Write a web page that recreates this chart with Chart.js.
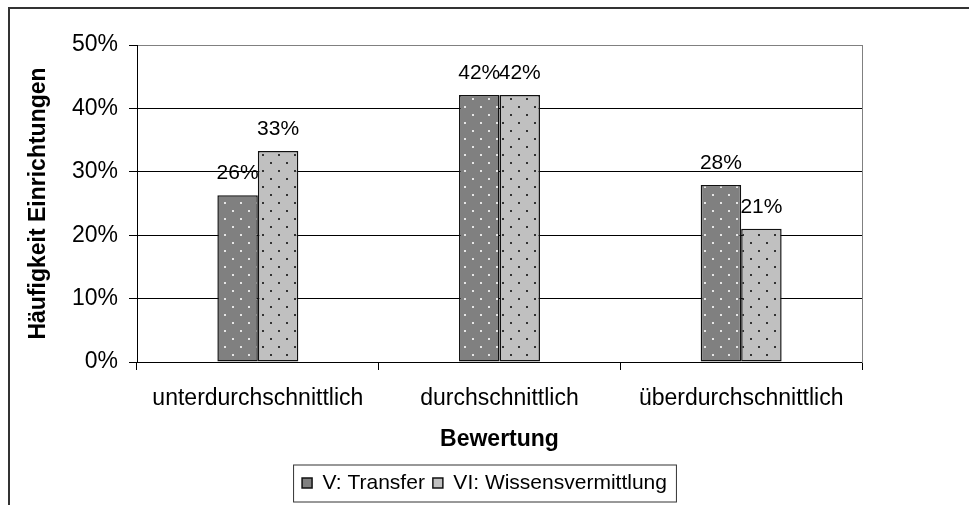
<!DOCTYPE html>
<html>
<head>
<meta charset="utf-8">
<script src="https://cdn.jsdelivr.net/npm/chart.js@4"></script>
<style>
  body { margin: 0; background: #fff; }
</style>
</head>
<body>
<canvas id="chart" width="969" height="505"></canvas>
<script>
var categories = ['unterdurchschnittlich', 'durchschnittlich', 'überdurchschnittlich'];
var seriesNames = ['V: Transfer', 'VI: Wissensvermittlung'];
var transfer = [26.3, 42.1, 27.9];
var wissen = [33.3, 42.1, 21.0];
var yTicks = [0, 10, 20, 30, 40, 50];

var FONT = '"Liberation Sans", Arial, sans-serif';
var ctx = document.getElementById('chart').getContext('2d');

// dotted fill like the old excel pattern
function dots(bg, dot, ox) {
    var c = document.createElement('canvas');
    c.width = 16; c.height = 16;
    var g = c.getContext('2d');
    g.fillStyle = bg;
    g.fillRect(0, 0, 16, 16);
    g.fillStyle = dot;
    g.fillRect(ox, 10, 2, 2);
    g.fillRect((ox + 8) % 16, 2, 2, 2);
    return ctx.createPattern(c, 'repeat');
}

var frame = {
    id: 'frame',
    beforeDraw: function(chart) {
        var c = chart.ctx;
        c.save();
        c.fillStyle = '#fff';
        c.fillRect(0, 0, chart.width, chart.height);
        c.strokeStyle = '#333';
        c.lineWidth = 2;
        c.beginPath();
        c.moveTo(9, chart.height);
        c.lineTo(9, 8);
        c.lineTo(chart.width, 8);
        c.stroke();
        c.restore();
    }
};

var barLabels = {
    id: 'barLabels',
    afterDatasetsDraw: function(chart) {
        var c = chart.ctx;
        c.save();
        c.font = '21px ' + FONT;
        c.fillStyle = '#000';
        c.textAlign = 'center';
        c.textBaseline = 'middle';
        chart.data.datasets.forEach(function(ds, i) {
            chart.getDatasetMeta(i).data.forEach(function(bar, j) {
                c.fillText(Math.round(ds.data[j]) + '%', bar.x, bar.y - 22);
            });
        });
        c.restore();
    }
};

var legendBox = {
    id: 'legendBox',
    afterDraw: function(chart) {
        var hb = chart.legend.legendHitBoxes;
        if (!hb || !hb.length) return;
        var last = hb[hb.length - 1];
        var c = chart.ctx;
        c.save();
        c.strokeStyle = '#333';
        c.lineWidth = 1;
        c.strokeRect(hb[0].left - 8.5, hb[0].top - 7.5, last.left + last.width - hb[0].left + 18, hb[0].height + 16);
        c.restore();
    }
};

var chart = new Chart(ctx, {
    type: 'bar',
    data: {
        labels: categories,
        datasets: [{
            label: seriesNames[0],
            data: transfer,
            backgroundColor: dots('#808080', '#e6e6e6', 0),
            borderColor: '#111',
            borderWidth: 1.5,
            borderSkipped: false
        }, {
            label: seriesNames[1],
            data: wissen,
            backgroundColor: dots('#c0c0c0', '#333', 6),
            borderColor: '#111',
            borderWidth: 1.5,
            borderSkipped: false
        }]
    },
    options: {
        responsive: false,
        animation: false,
        categoryPercentage: 0.335,
        barPercentage: 1,
        layout: { padding: { left: 0, right: 0, top: 45, bottom: 1.5 } },
        plugins: {
            tooltip: { enabled: false },
            legend: {
                position: 'bottom',
                labels: {
                    font: { family: FONT, size: 21 },
                    color: '#000',
                    boxWidth: 10,
                    boxHeight: 10,
                    padding: 8
                }
            }
        },
        scales: {
            x: {
                grid: { drawOnChartArea: false, tickLength: 8, color: '#000' },
                border: { color: '#000', width: 1 },
                ticks: { font: { family: FONT, size: 23 }, color: '#000', padding: 15 },
                title: {
                    display: true,
                    text: 'Bewertung',
                    font: { family: FONT, size: 23, weight: 'bold' },
                    color: '#000',
                    padding: { top: 0, bottom: 11.5 }
                },
                afterFit: function(s) { s.height = 102.5; }
            },
            y: {
                min: 0,
                max: 50,
                afterBuildTicks: function(s) {
                    s.ticks = yTicks.map(function(v) { return { value: v }; });
                },
                grid: {
                    color: function(c) { return c.tick && c.tick.value === 50 ? '#808080' : '#000'; },
                    tickColor: '#000',
                    tickLength: 8
                },
                border: { color: '#000', width: 1 },
                ticks: {
                    font: { family: FONT, size: 23 },
                    color: '#000',
                    padding: 11,
                    callback: function(v) { return v + '%'; }
                },
                title: {
                    display: true,
                    text: 'Häufigkeit Einrichtungen',
                    font: { family: FONT, size: 23, weight: 'bold' },
                    color: '#000',
                    padding: { top: 25, bottom: 0 }
                },
                afterFit: function(s) { s.width = 137; }
            },
            // empty right axis: keeps the plot right edge and draws its grey border
            y2: {
                position: 'right',
                min: 0,
                max: 50,
                grid: { drawOnChartArea: false, drawTicks: false },
                border: { color: '#808080', width: 1 },
                ticks: { display: false },
                afterFit: function(s) { s.width = 107; }
            }
        }
    },
    plugins: [frame, barLabels, legendBox]
});
</script>
</body>
</html>
